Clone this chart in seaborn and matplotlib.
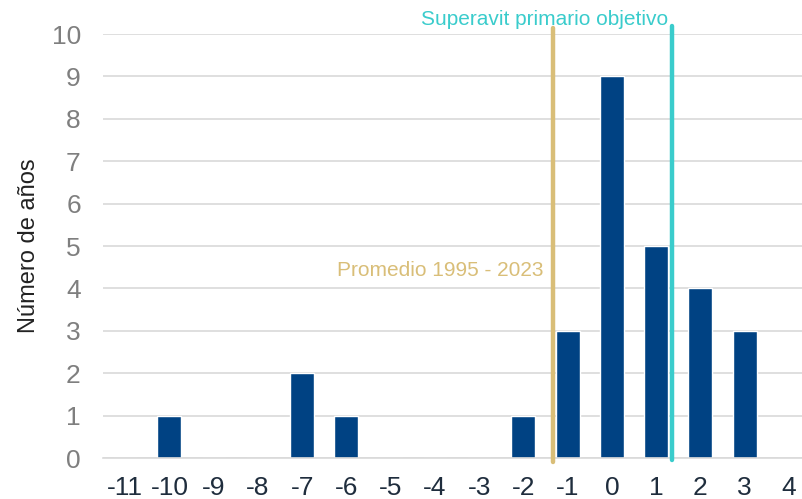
import matplotlib
matplotlib.use("Agg")
import matplotlib.pyplot as plt
import seaborn as sns
import pandas as pd
import numpy as np
from matplotlib.ticker import FixedLocator

categories = [-11, -10, -9, -8, -7, -6, -5, -4, -3, -2, -1, 0, 1, 2, 3, 4]
counts = [0, 1, 0, 0, 2, 1, 0, 0, 0, 1, 3, 9, 5, 4, 3, 0]
promedio_value = -1.34
objetivo_value = 1.37
promedio_label = "Promedio 1995 - 2023"
objetivo_label = "Superavit primario objetivo"
y_label = "Número de años"

sns.set_style("white")
plt.rcParams['font.family'] = ['Liberation Sans', 'DejaVu Sans']

df = pd.DataFrame({"cat": [str(c) for c in categories], "n": counts})

W, H = 802, 499
fig = plt.figure(figsize=(W / 100, H / 100), dpi=100)
left, right_px, bottom_px, top_px = 103, 802, 458, 34
ax = fig.add_axes([left / W, 1 - bottom_px / H, (right_px - left) / W, (bottom_px - top_px) / H])

sns.barplot(data=df, x="cat", y="n", color="#004283", width=0.54, ax=ax,
            saturation=1, order=[str(c) for c in categories])

unit = 44.25
xmax = (right_px - left) / unit - 0.5
ax.set_xlim(-0.5, xmax)
ax.set_ylim(0, 10)

ax.set_yticks(range(0, 11))
ax.yaxis.grid(True, color="#D9D9D9", linewidth=1.2)
ax.set_axisbelow(True)
for s in ["top", "right", "left"]:
    ax.spines[s].set_visible(False)
ax.spines["bottom"].set_color("#D9D9D9")
ax.spines["bottom"].set_linewidth(1.2)

ax.tick_params(axis="y", length=0, pad=16, labelsize=19, labelcolor="#7F7F7F")
ax.tick_params(axis="x", which="major", length=0, pad=13, labelsize=19, labelcolor="#1F2D3D")
ax.xaxis.set_minor_locator(FixedLocator(np.arange(-0.5, 15, 1.0)))
ax.tick_params(axis="x", which="minor", length=6.5, width=1.2, color="#D9D9D9")

ax.set_xlabel("")
ax.set_ylabel(y_label, fontsize=17, color="#222222", labelpad=8)

x0 = categories[0]
px = promedio_value - x0
ox = objetivo_value - x0
ax.plot([px, px], [-0.1, 10.15], color="#D9BE78", linewidth=3.2, clip_on=False, zorder=5)
ax.plot([ox, ox], [-0.05, 10.2], color="#3ACCCC", linewidth=3.2, clip_on=False, zorder=5)

ax.text(px - 0.2, 4.42, promedio_label, ha="right", va="center", fontsize=15, color="#D9BE78")
ax.text(ox - 0.1, 10.35, objetivo_label, ha="right", va="center", fontsize=15, color="#3ACCCC",
        clip_on=False)

fig.savefig("out.png", dpi=100)
